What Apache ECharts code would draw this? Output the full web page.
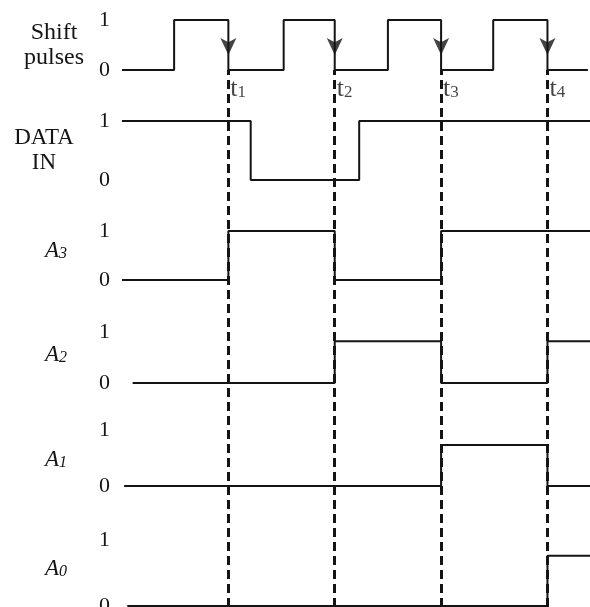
<!DOCTYPE html>
<html>
<head>
<meta charset="utf-8">
<script src="https://cdn.jsdelivr.net/npm/echarts@6/dist/echarts.min.js"></script>
<style>
  html, body { margin: 0; padding: 0; background: #fff; }
  #chart { width: 590px; height: 607px; }
</style>
</head>
<body>
<div id="chart"></div>
<script>
// time axis: t1..t4 are the clock falling edges
var timeMax = 4.4;
var clockTimes = [1, 2, 3, 4];
var clockLabels = ['1', '2', '3', '4'];

// waveforms: change times and the level held from each time on
var shiftT = [0, 0.49, 1, 1.52, 2, 2.5, 3, 3.49, 4, 4.38];
var shiftV = [0, 1, 0, 1, 0, 1, 0, 1, 0, 0];
var dataInT = [0, 1.21, 2.23, 4.4];
var dataInV = [1, 0, 1, 1];
var a3T = [0, 1, 2, 3, 4.4];
var a3V = [0, 1, 0, 1, 1];
var a2T = [0.1, 2, 3, 4, 4.4];
var a2V = [0, 0.82, 0, 0.82, 0.82];
var a1T = [0.02, 3, 4, 4.4];
var a1V = [0, 0.73, 0, 0];
var a0T = [0.05, 4, 4.4];
var a0V = [0, 0.76, 0.76];

var rowNames = ['Shift\npulses', 'DATA\nIN', '{a|A}{n|3}', '{a|A}{n|2}', '{a|A}{n|1}', '{a|A}{n|0}'];
var levelLabels = ['0', '1'];

// layout (pixels): top = level "1", bottom = level "0"
var rowTop = [20, 121, 231, 332, 430, 540];
var rowZero = [70, 180, 280, 383, 486, 606];
var nameGap = [68, 78, 66, 66, 66, 66];
var nameShift = [0, 0, -5, -3, 2, -4];
var ink = '#141414';
var serif = 'Liberation Serif';

var waves = [[shiftT, shiftV], [dataInT, dataInV], [a3T, a3V], [a2T, a2V], [a1T, a1V], [a0T, a0V]];

function pairs(t, v) {
    var out = [];
    for (var i = 0; i < t.length; i++) out.push([t[i], v[i]]);
    return out;
}

var grids = [], xAxes = [], yAxes = [], series = [];

for (var r = 0; r < 6; r++) {
    grids.push({
        left: 122, width: 468, top: rowTop[r], height: rowZero[r] - rowTop[r],
        containLabel: false, outerBoundsMode: 'none'
    });
    xAxes.push({ type: 'value', gridIndex: r, min: 0, max: timeMax, show: false });
    var pad = nameShift[r] < 0 ? [0, 0, -2 * nameShift[r], 0] : [2 * nameShift[r], 0, 0, 0];
    yAxes.push({
        type: 'value', gridIndex: r, min: 0, max: 1, interval: 1,
        axisLine: { show: false }, axisTick: { show: false }, splitLine: { show: false },
        axisLabel: {
            margin: 12, fontSize: 22, fontFamily: serif, color: ink,
            formatter: function (v) { return levelLabels[v]; }
        },
        name: rowNames[r],
        nameLocation: 'middle',
        nameRotate: 0,
        nameGap: nameGap[r],
        nameMoveOverlap: false,
        nameTextStyle: {
            align: 'center', verticalAlign: 'middle',
            fontFamily: serif, color: ink,
            fontSize: r === 0 ? 24 : 23,
            lineHeight: 25,
            padding: pad,
            rich: {
                a: { fontFamily: serif, fontStyle: 'italic', fontSize: 23, lineHeight: 22, color: ink },
                n: { fontFamily: serif, fontStyle: 'italic', fontSize: 16, lineHeight: 15, verticalAlign: 'bottom', color: ink }
            }
        }
    });
    series.push({
        type: 'line', xAxisIndex: r, yAxisIndex: r,
        data: pairs(waves[r][0], waves[r][1]),
        step: 'end', symbol: 'none', silent: true,
        lineStyle: { color: ink, width: 2 }
    });
}

// arrowheads on the falling clock edges
series.push({
    type: 'scatter', xAxisIndex: 0, yAxisIndex: 0,
    data: clockTimes.map(function (t) { return [t, 0.3]; }),
    symbol: 'arrow', symbolRotate: 180, symbolSize: [12, 17],
    itemStyle: { color: ink }, silent: true, z: 5
});

// overlay grid for the dashed clock lines and t labels
grids.push({ left: 122, width: 468, top: 70, bottom: 0, containLabel: false, outerBoundsMode: 'none' });
xAxes.push({ type: 'value', gridIndex: 6, min: 0, max: timeMax, show: false });
yAxes.push({ type: 'value', gridIndex: 6, min: 0, max: 1, show: false });
series.push({
    type: 'scatter', xAxisIndex: 6, yAxisIndex: 6,
    data: clockTimes.map(function (t) { return [t, 0.964]; }),
    symbolSize: 0, silent: true,
    label: {
        show: true, position: 'right', distance: 2,
        formatter: function (p) { return '{t|t}{s|' + clockLabels[p.dataIndex] + '}'; },
        rich: {
            t: { fontFamily: serif, fontSize: 26, lineHeight: 24, color: ink },
            s: { fontFamily: serif, fontSize: 17, lineHeight: 6, verticalAlign: 'bottom', color: ink }
        }
    },
    markLine: {
        silent: true, symbol: ['none', 'none'],
        label: { show: false },
        lineStyle: { color: ink, width: 3, type: [9, 5] },
        data: clockTimes.map(function (t) { return { xAxis: t }; })
    }
});

var chart = echarts.init(document.getElementById('chart'));
chart.setOption({
    animation: false,
    backgroundColor: '#fff',
    grid: grids,
    xAxis: xAxes,
    yAxis: yAxes,
    series: series
});
</script>
</body>
</html>
